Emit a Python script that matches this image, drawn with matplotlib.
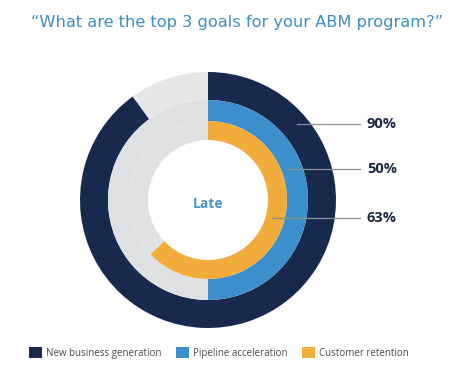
import matplotlib
matplotlib.use("Agg")
import matplotlib.pyplot as plt
from matplotlib.patches import Patch

title = "\u201cWhat are the top 3 goals for your ABM program?\u201d"
center_label = "Late"
categories = ["New business generation", "Pipeline acceleration", "Customer retention"]
values = [90, 50, 63]
colors = ["#172a4e", "#3d8fcc", "#f2ac3b"]
track_colors = ["#e6e7e9", "#dfe0e2", "#e1e2e4"]

W, H = 474, 379
fig = plt.figure(figsize=(W / 100, H / 100), dpi=100)
ax = fig.add_axes([0, 0, 1, 1])

cx, cy = 208, H - 200
radii = [128, 100, 79]
widths = [28, 21, 19]

for v, c, tc, r, w in zip(values, colors, track_colors, radii, widths):
    ax.pie([v, 100 - v], radius=r, center=(cx, cy), startangle=90,
           counterclock=False, colors=[c, tc],
           wedgeprops=dict(width=w, linewidth=0))

ax.set_xlim(0, W)
ax.set_ylim(0, H)
ax.set_aspect("equal")
ax.axis("off")

# center label
ax.text(cx, cy - 4, center_label, ha="center", va="center", color="#4a94c9",
        fontsize=10, fontweight="bold", family="Open Sans")

# leader lines and value labels
line_starts = [297, 287, 272]
label_y = [124, 169, 218]
for v, x0, y in zip(values, line_starts, label_y):
    ax.plot([x0, 360], [H - y, H - y], color="#8a8d92", lw=0.9)
    ax.text(367, H - y, f"{v}%", ha="left", va="center", color="#1b2742",
            fontsize=10.5, fontweight="bold", family="Open Sans")

# title
fig.text(237 / W, 1 - 22 / H, title, ha="center", va="center",
         color="#3f8fc4", fontsize=11.7, family="DejaVu Sans")

# legend
handles = [Patch(facecolor=c, edgecolor="none") for c in colors]
fig.legend(handles, categories, loc="center", bbox_to_anchor=(219 / W, 1 - 353 / H),
           ncol=3, frameon=False, handlelength=1.35, handleheight=1.35,
           handletextpad=0.4, columnspacing=1.5, labelcolor="#4a4a4a",
           borderpad=0, prop={"family": "Open Sans", "size": 7.0})

fig.savefig("out.png", dpi=100, facecolor="white")
